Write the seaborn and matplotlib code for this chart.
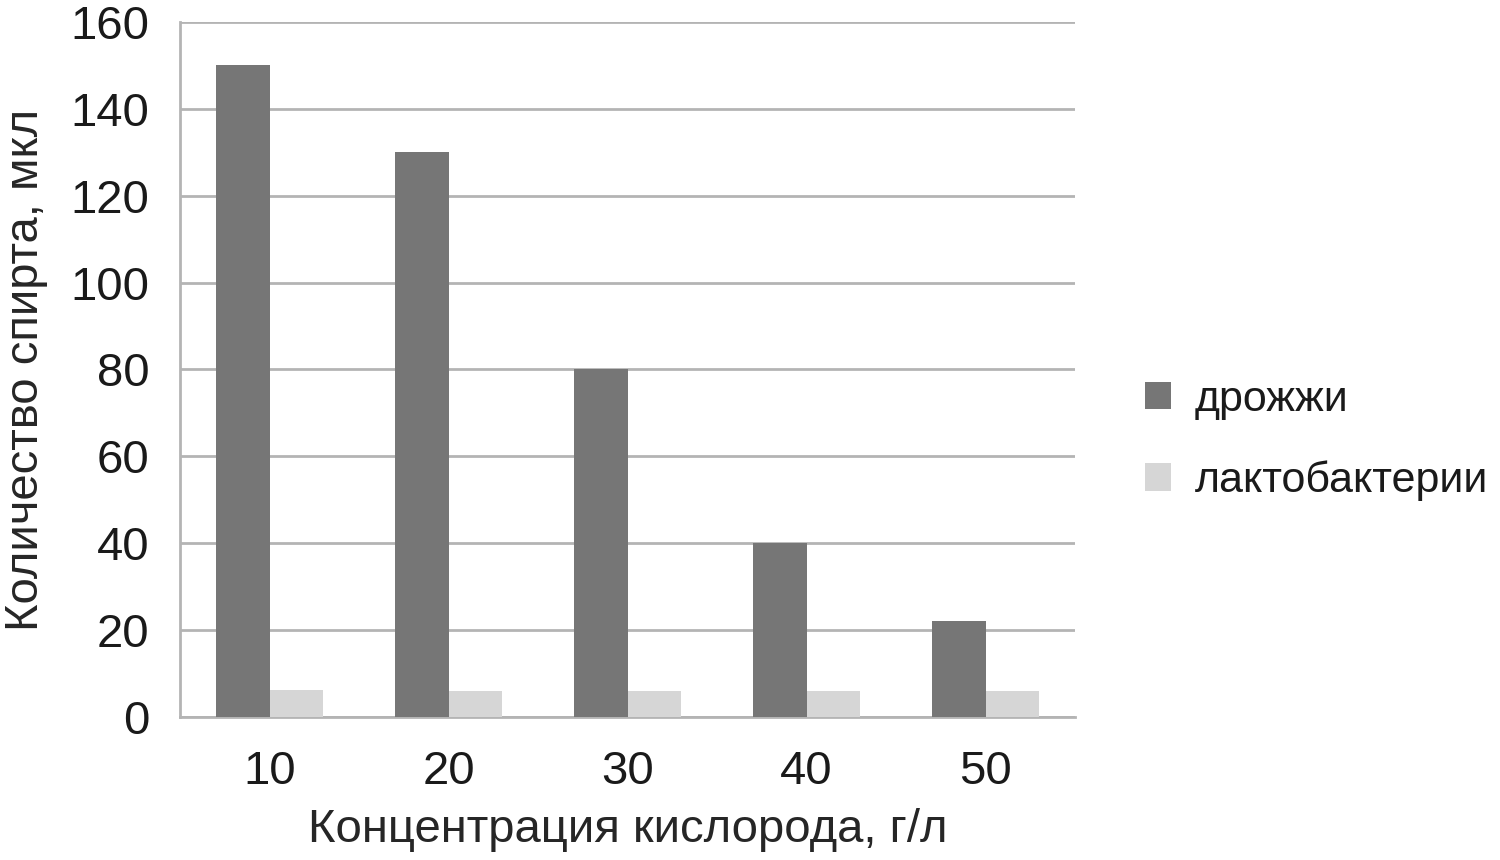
import numpy as np
import pandas as pd
import matplotlib
matplotlib.use("Agg")
import matplotlib.pyplot as plt
import seaborn as sns

# data
concentration = ['10', '20', '30', '40', '50']
yeast = [150, 130, 80, 40, 22]
lacto = [6.2, 6, 6, 6, 6]
series_names = ['дрожжи', 'лактобактерии']

df = pd.DataFrame({
    'conc': concentration * 2,
    'value': yeast + lacto,
    'series': [series_names[0]] * 5 + [series_names[1]] * 5,
})

sns.set_style('white')
plt.rcParams['font.family'] = ['Liberation Sans', 'DejaVu Sans']
plt.rcParams['text.color'] = '#1a1a1a'

fig = plt.figure(figsize=(15, 8.6), dpi=100)
ax = fig.add_axes([0.12, 0.1663, 0.5967, 0.8081])

grid_col = '#b4b4b4'
sns.barplot(data=df, x='conc', y='value', hue='series', hue_order=series_names,
            palette=['#767676', '#d6d6d6'], width=0.6, gap=0, saturation=1,
            edgecolor='none', linewidth=0, ax=ax, zorder=3)

ax.set_ylim(0, 160)
ax.set_yticks(np.arange(0, 161, 20))
ax.set_xlim(-0.5, 4.5)
ax.yaxis.grid(True, color=grid_col, linewidth=2, zorder=0)
ax.set_axisbelow(True)

for s in ['top', 'right']:
    ax.spines[s].set_visible(False)
for s in ['left', 'bottom']:
    ax.spines[s].set_color(grid_col)
    ax.spines[s].set_linewidth(2)

ax.set_xticks(np.arange(-0.5, 4.6, 1), minor=True)
ax.tick_params(axis='x', which='major', length=0, pad=24, labelsize=34, labelcolor='#1a1a1a')
ax.tick_params(axis='x', which='minor', length=10, width=2, color=grid_col, direction='out')
ax.tick_params(axis='y', length=10, width=2, color=grid_col, pad=12, labelsize=34, labelcolor='#1a1a1a')

ax.set_xlabel('Концентрация кислорода, г/л', fontsize=34, labelpad=10)
ax.set_ylabel('Количество спирта, мкл', fontsize=34, labelpad=16)

ax.legend(loc='center left', bbox_to_anchor=(0.749, 0.488), bbox_transform=fig.transFigure,
          frameon=False, fontsize=31, handlelength=0.6, handleheight=0.6,
          handletextpad=0.55, labelspacing=0.95, borderpad=0)

fig.savefig('out.png', dpi=100)
